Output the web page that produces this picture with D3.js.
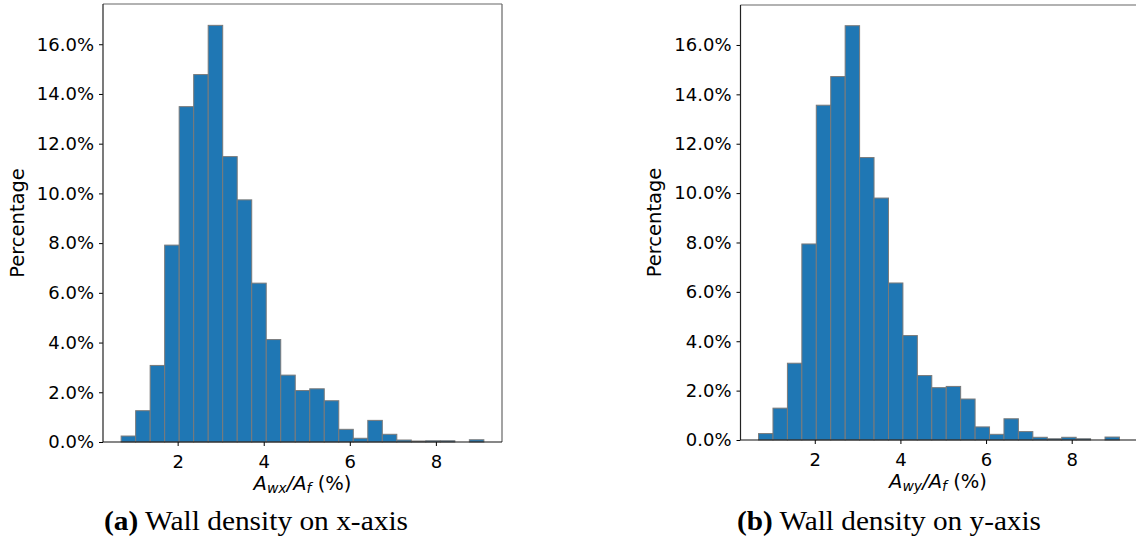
<!DOCTYPE html>
<html>
<head>
<meta charset="utf-8">
<script src="https://cdn.jsdelivr.net/npm/d3@7"></script>
<style>
  html, body { margin: 0; padding: 0; background: #fff; }
  svg { display: block; }
  .tick text { font-family: "DejaVu Sans", sans-serif; font-size: 18px; fill: #000; }
</style>
</head>
<body>
<svg id="fig" width="1136" height="544"></svg>
<script>
// Histogram of wall density (percentage of buildings per bin), 25 equal bins
const binMin = 0.687;
const binMax = 9.115;
const binCount = 25;

// Share of buildings per bin (%) — wall density along x
const densityX = [0.24, 1.26, 3.08, 7.92, 13.49, 14.78, 16.76, 11.48, 9.74, 6.39,
                  4.12, 2.69, 2.07, 2.14, 1.66, 0.51, 0.15, 0.87, 0.31, 0.08,
                  0.04, 0.05, 0.05, 0.00, 0.09];
// Share of buildings per bin (%) — wall density along y
const densityY = [0.26, 1.29, 3.11, 7.94, 13.56, 14.72, 16.78, 11.44, 9.80, 6.36,
                  4.23, 2.61, 2.12, 2.17, 1.66, 0.53, 0.23, 0.86, 0.34, 0.11,
                  0.05, 0.11, 0.05, 0.00, 0.12];

const xTickValues = [2, 4, 6, 8];
const yTickValues = [0, 2, 4, 6, 8, 10, 12, 14, 16];
const captions = [
  { tag: "(a)", text: "Wall density on x-axis", sub: "wx" },
  { tag: "(b)", text: "Wall density on y-axis", sub: "wy" }
];

const svg = d3.select("#fig");
const binWidth = (binMax - binMin) / binCount;

// matplotlib-style 5% margins around the data range
const xPad = (binMax - binMin) * 0.05;
const xDomain = [binMin - xPad, binMax + xPad];
const yMax = d3.max(densityX.concat(densityY)) * 1.05;

const panels = [
  { data: densityX, left: 103, right: 502, top: 4, bottom: 442, capX: 104, cap: captions[0], ylabX: 18 },
  { data: densityY, left: 740.5, right: 1137.5, top: 5, bottom: 440, capX: 737, cap: captions[1], ylabX: 655 }
];

panels.forEach(p => {
  const x = d3.scaleLinear().domain(xDomain).range([p.left, p.right]);
  const y = d3.scaleLinear().domain([0, yMax]).range([p.bottom, p.top]);
  const g = svg.append("g");

  // bars
  g.selectAll("rect.bar")
    .data(p.data)
    .join("rect")
    .attr("class", "bar")
    .attr("x", (d, i) => x(binMin + i * binWidth))
    .attr("width", (d, i) => x(binMin + (i + 1) * binWidth) - x(binMin + i * binWidth))
    .attr("y", d => y(d))
    .attr("height", d => y(0) - y(d))
    .attr("fill", "#1f77b4")
    .attr("stroke", d => d > 0 ? "#7a7a7a" : "none")
    .attr("stroke-width", 1);

  // axes
  const xAxis = d3.axisBottom(x).tickValues(xTickValues).tickSize(4).tickPadding(6)
    .tickFormat(d3.format("d"));
  const yAxis = d3.axisLeft(y).tickValues(yTickValues).tickSize(4).tickPadding(5)
    .tickFormat(d => d3.format(".1f")(d) + "%");

  const gx = g.append("g").attr("transform", `translate(0,${p.bottom})`).call(xAxis);
  const gy = g.append("g").attr("transform", `translate(${p.left},0)`).call(yAxis);
  [gx, gy].forEach(a => {
    a.select(".domain").remove();
    a.selectAll(".tick line").attr("stroke", "#000").attr("stroke-width", 1);
  });
  gx.selectAll(".tick text").attr("dy", "0.9em");

  // frame
  const frame = g.append("g").attr("fill", "none").attr("stroke-width", 1.2);
  frame.append("line").attr("x1", p.left).attr("x2", p.right).attr("y1", p.top).attr("y2", p.top).attr("stroke", "#666");
  frame.append("line").attr("x1", p.right).attr("x2", p.right).attr("y1", p.top).attr("y2", p.bottom).attr("stroke", "#666");
  frame.append("line").attr("x1", p.left).attr("x2", p.left).attr("y1", p.top).attr("y2", p.bottom).attr("stroke", "#222");
  frame.append("line").attr("x1", p.left).attr("x2", p.right).attr("y1", p.bottom).attr("y2", p.bottom).attr("stroke", "#111");

  // y label
  g.append("text")
    .attr("transform", `translate(${p.ylabX + 6},${(p.top + p.bottom) / 2}) rotate(-90)`)
    .attr("text-anchor", "middle")
    .attr("font-family", "DejaVu Sans, sans-serif")
    .attr("font-size", 19.5)
    .text("Percentage");

  // x label: A_{w?}/A_f (%)
  const xl = g.append("text")
    .attr("x", (p.left + p.right) / 2 + (p.ylabX > 100 ? -1 : 0))
    .attr("y", p.bottom + 48)
    .attr("text-anchor", "middle")
    .attr("font-family", "DejaVu Sans, sans-serif")
    .attr("font-size", 19.5);
  xl.append("tspan").attr("font-style", "italic").text("A");
  xl.append("tspan").attr("font-style", "italic").attr("font-size", 14).attr("dy", 3).text(p.cap.sub);
  xl.append("tspan").attr("font-style", "italic").attr("dy", -3).text("/A");
  xl.append("tspan").attr("font-style", "italic").attr("font-size", 14).attr("dy", 3).text("f");
  xl.append("tspan").attr("dy", -3).text(" (%)");

  // caption
  const cap = svg.append("text")
    .attr("x", p.capX)
    .attr("y", 530)
    .attr("font-family", "Liberation Serif, serif")
    .attr("font-size", 27)
    .attr("textLength", 304)
    .attr("lengthAdjust", "spacingAndGlyphs");
  cap.append("tspan").attr("font-weight", "bold").text(p.cap.tag);
  cap.append("tspan").text(" " + p.cap.text);
});
</script>
</body>
</html>
